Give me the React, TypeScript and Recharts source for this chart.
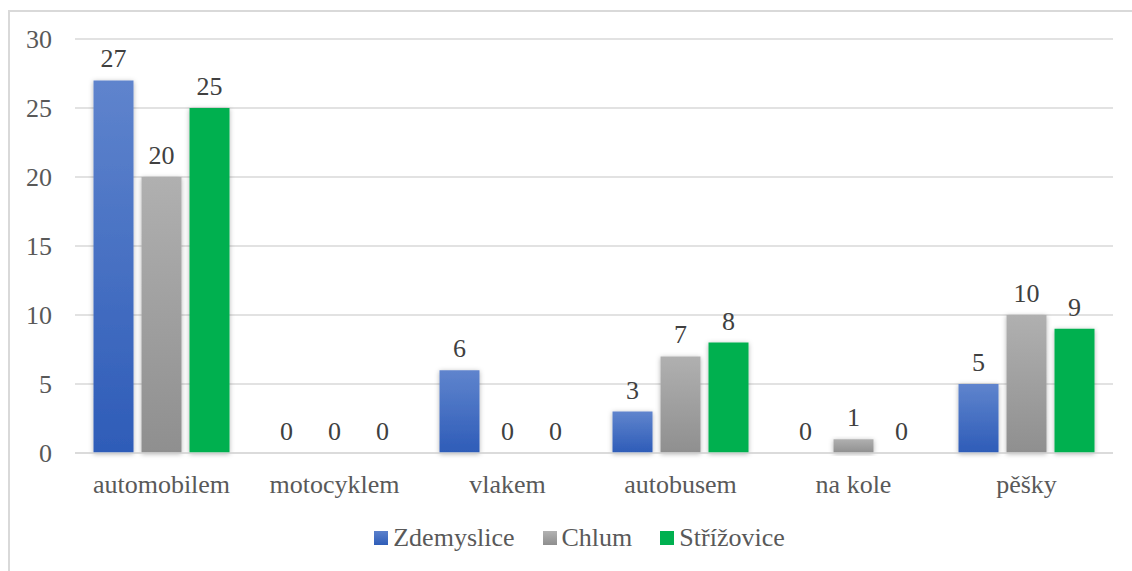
import { BarChart, Bar, XAxis, YAxis, CartesianGrid, LabelList, Legend } from 'recharts';

const categories = ['automobilem', 'motocyklem', 'vlakem', 'autobusem', 'na kole', 'pěšky'];
const zdemyslice = [27, 0, 6, 3, 0, 5];
const chlum = [20, 0, 0, 7, 1, 10];
const strizovice = [25, 0, 0, 8, 0, 9];
const yTicks = [0, 5, 10, 15, 20, 25, 30];

const seriesList = [
  { key: 'zdemyslice', name: 'Zdemyslice', fill: 'url(#gradBlue)' },
  { key: 'chlum', name: 'Chlum', fill: 'url(#gradGray)' },
  { key: 'strizovice', name: 'Střížovice', fill: '#00b050' },
];

const data = categories.map((name, i) => ({
  name,
  zdemyslice: zdemyslice[i],
  chlum: chlum[i],
  strizovice: strizovice[i],
}));

const FONT = "'Liberation Serif', 'Times New Roman', Tinos, 'Noto Serif', 'DejaVu Serif', Times, serif";
const FONT_SIZE = 26;

const LegendContent = () => (
  <div
    style={{
      display: 'flex',
      justifyContent: 'center',
      gap: 28,
      paddingLeft: 46,
      fontFamily: FONT,
      fontSize: FONT_SIZE,
      color: '#595959',
      lineHeight: '30px',
    }}
  >
    {seriesList.map((s, i) => (
      <div key={s.key} style={{ display: 'flex', alignItems: 'center', gap: 5 }}>
        <span
          style={{
            display: 'inline-block',
            width: 14,
            height: 14,
            background: i === 0 ? 'linear-gradient(#5b80cc, #2f5db8)' : i === 1 ? 'linear-gradient(#b2b2b2, #8e8e8e)' : '#00b050',
          }}
        />
        <span>{s.name}</span>
      </div>
    ))}
  </div>
);

// zero-value bars get a hairline height so their "0" labels still render
const minSize = (value: number) => (value === 0 ? 0.001 : 0);

export default function App() {
  return (
    <div style={{ position: 'absolute', left: 0, top: 0, width: 1132, height: 571, background: '#fff', overflow: 'hidden', fontFamily: FONT }}>
      <div
        style={{
          position: 'absolute',
          left: 8,
          top: 10,
          width: 1200,
          height: 700,
          borderLeft: '2px solid #d9d9d9',
          borderTop: '2px solid #d9d9d9',
        }}
      />
      <div style={{ position: 'absolute', left: 0, top: 0 }}>
        <BarChart
          width={1132}
          height={571}
          data={data}
          margin={{ top: 39, right: 19, left: 0, bottom: 58 }}
          barCategoryGap="10.7%"
          barGap={8}
          style={{ fontFamily: FONT }}
        >
          <defs>
            <linearGradient id="gradBlue" x1="0" y1="0" x2="0" y2="1">
              <stop offset="0%" stopColor="#5f84cd" />
              <stop offset="100%" stopColor="#2e5cb8" />
            </linearGradient>
            <linearGradient id="gradGray" x1="0" y1="0" x2="0" y2="1">
              <stop offset="0%" stopColor="#b0b0b0" />
              <stop offset="100%" stopColor="#8f8f8f" />
            </linearGradient>
            <filter id="barShadow" x="-20%" y="-20%" width="140%" height="140%">
              <feDropShadow dx="0" dy="1" stdDeviation="2.5" floodColor="#000" floodOpacity="0.3" />
            </filter>
          </defs>
          <CartesianGrid vertical={false} stroke="#d9d9d9" strokeWidth={1.5} />
          <XAxis
            dataKey="name"
            height={30}
            axisLine={{ stroke: '#d9d9d9', strokeWidth: 1.5 }}
            tickLine={false}
            tickMargin={16}
            tick={{ fill: '#595959', fontSize: FONT_SIZE, fontFamily: FONT }}
            interval={0}
          />
          <YAxis
            domain={[0, 30]}
            ticks={yTicks}
            width={75}
            axisLine={false}
            tickLine={false}
            tickMargin={17}
            tick={{ fill: '#595959', fontSize: FONT_SIZE, fontFamily: FONT }}
          />
          <Legend verticalAlign="bottom" content={<LegendContent />} wrapperStyle={{ bottom: 18 }} />
          {seriesList.map((s) => (
            <Bar
              key={s.key}
              dataKey={s.key}
              name={s.name}
              fill={s.fill}
              minPointSize={minSize}
              isAnimationActive={false}
              style={{ filter: 'url(#barShadow)' }}
            >
              <LabelList
                dataKey={s.key}
                position="top"
                offset={13}
                fill="#404040"
                fontSize={FONT_SIZE}
                fontFamily={FONT}
              />
            </Bar>
          ))}
        </BarChart>
      </div>
    </div>
  );
}
